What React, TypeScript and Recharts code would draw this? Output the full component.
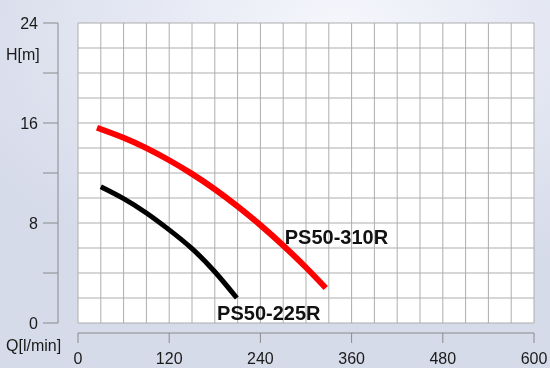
import React from "react";
import {
  CartesianGrid,
  Label,
  Line,
  LineChart,
  ReferenceDot,
  ReferenceLine,
  XAxis,
  YAxis,
} from "recharts";

// pump curves (Q in l/min, H in m)
const RED_Q = [25, 60, 90, 120, 150, 180, 210, 240, 270, 300, 326];
const RED_H = [15.62, 14.82, 13.99, 13.02, 11.93, 10.7, 9.33, 7.83, 6.2, 4.44, 2.8];
const BLACK_Q = [30, 60, 90, 120, 150, 180, 209];
const BLACK_H = [10.9, 9.95, 8.8, 7.45, 5.95, 4.1, 2.0];

const X_TICKS = [0, 30, 60, 90, 120, 150, 180, 210, 240, 270, 300, 330, 360, 390, 420, 450, 480, 510, 540, 570, 600];
const Y_TICKS = [0, 2, 4, 6, 8, 10, 12, 14, 16, 18, 20, 22, 24];

const RED_NAME = "PS50-310R";
const BLACK_NAME = "PS50-225R";

const redData = RED_Q.map((q, i) => ({ q, h: RED_H[i] }));
const blackData = BLACK_Q.map((q, i) => ({ q, h: BLACK_H[i] }));

const FONT = "'Liberation Sans', Arial, sans-serif";
const AXIS = "#8a8a8a";

function YTick(props: any) {
  const v = props.payload.value;
  const y = props.payload.coordinate;
  return (
    <g>
      {v % 4 === 0 && <line x1={43} x2={58} y1={y} y2={y} stroke={AXIS} strokeWidth={1} />}
      {v % 8 === 0 && (
        <text x={38} y={y} dy={6} textAnchor="end" fontSize={16} fill="#1a1a1a" fontFamily={FONT}>
          {v}
        </text>
      )}
    </g>
  );
}

function XTick(props: any) {
  const v = props.payload.value;
  const x = props.payload.coordinate;
  if (v % 120 !== 0) return <g />;
  return (
    <g>
      <line x1={x} x2={x} y1={333} y2={343} stroke={AXIS} strokeWidth={1} />
      <text x={x} y={364} textAnchor="middle" fontSize={16} fill="#1a1a1a" fontFamily={FONT}>
        {v}
      </text>
    </g>
  );
}

export default function App() {
  return (
    <div
      style={{
        position: "fixed",
        left: 0,
        top: 0,
        width: 550,
        height: 368,
        background:
          "radial-gradient(ellipse 75% 70% at 62% 8%, #f6f7fc 0%, #e6e9f4 45%, #d6dbea 100%)",
      }}
    >
      <LineChart
        width={550}
        height={368}
        margin={{ top: 23, right: 16, left: 0, bottom: 0 }}
        style={{ fontFamily: FONT }}
      >
        <CartesianGrid fill="#ffffff" stroke="#adadad" strokeWidth={1} />
        <XAxis
          type="number"
          dataKey="q"
          domain={[0, 600]}
          ticks={X_TICKS}
          interval={0}
          height={45}
          axisLine={false}
          tickLine={false}
          tick={<XTick />}
        />
        <YAxis
          type="number"
          domain={[0, 24]}
          ticks={Y_TICKS}
          interval={0}
          width={78}
          axisLine={false}
          tickLine={false}
          tick={<YTick />}
        >
          <Label
            content={() => (
              <text x={6} y={60} fontSize={16} fill="#1a1a1a" fontFamily={FONT}>
                H[m]
              </text>
            )}
          />
        </YAxis>
        <ReferenceLine
          segment={[{ x: 0, y: -0.8 }, { x: 600, y: -0.8 }]}
          stroke={AXIS}
          ifOverflow="visible"
        />
        <ReferenceLine
          segment={[{ x: -26.3, y: 0 }, { x: -26.3, y: 24 }]}
          stroke={AXIS}
          ifOverflow="visible"
          label={{
            position: "insideStart",
            content: () => (
              <text x={6} y={351} fontSize={16} fill="#1a1a1a" fontFamily={FONT}>
                Q[l/min]
              </text>
            ),
          }}
        />
        <Line
          data={blackData}
          dataKey="h"
          type="natural"
          stroke="#000000"
          strokeWidth={5}
          dot={false}
          isAnimationActive={false}
        />
        <Line
          data={redData}
          dataKey="h"
          type="natural"
          stroke="#ff0000"
          strokeWidth={6}
          dot={false}
          isAnimationActive={false}
        />
        <ReferenceDot
          x={272}
          y={6.9}
          r={0}
          ifOverflow="visible"
          label={{
            value: RED_NAME,
            position: "right",
            offset: 0,
            fontSize: 20,
            fontWeight: "bold",
            fill: "#111",
            fontFamily: FONT,
          }}
        />
        <ReferenceDot
          x={183}
          y={0.8}
          r={0}
          ifOverflow="visible"
          label={{
            value: BLACK_NAME,
            position: "right",
            offset: 0,
            fontSize: 20,
            fontWeight: "bold",
            fill: "#111",
            fontFamily: FONT,
          }}
        />
      </LineChart>
    </div>
  );
}
